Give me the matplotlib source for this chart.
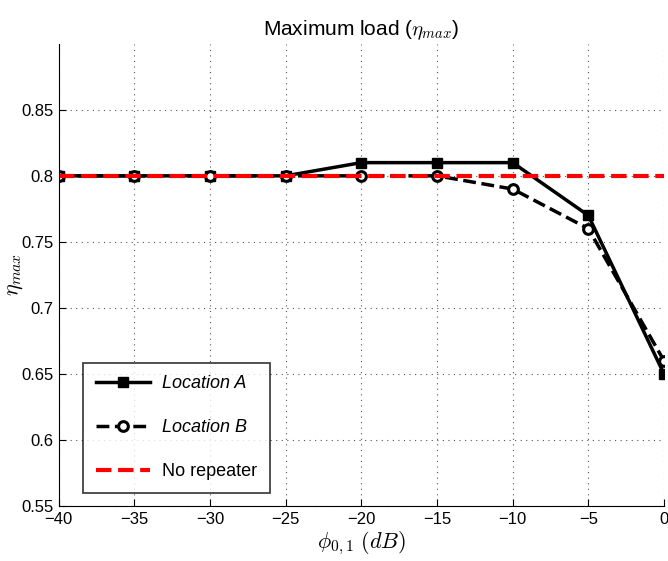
import matplotlib
matplotlib.use('Agg')
import matplotlib.pyplot as plt

plt.rcParams['font.family'] = ['Liberation Sans', 'DejaVu Sans']
plt.rcParams['mathtext.fontset'] = 'cm'

# data
phi = [-40, -35, -30, -25, -20, -15, -10, -5, 0]
loc_a = [0.80, 0.80, 0.80, 0.80, 0.81, 0.81, 0.81, 0.77, 0.65]
loc_b = [0.80, 0.80, 0.80, 0.80, 0.80, 0.80, 0.79, 0.76, 0.66]
no_rep = [0.80] * len(phi)

fig = plt.figure(figsize=(6.68, 5.61), dpi=100)
ax = fig.add_axes([0.088, 0.098, 0.906, 0.824])

ax.plot(phi, loc_a, '-', color='black', lw=2.5, marker='s', ms=7, label='Location A')
ax.plot(phi, loc_b, '--', color='black', lw=2.5, marker='o', ms=7,
        mfc='white', mew=2.2, label='Location B')
ax.plot(phi, no_rep, '--', color='red', lw=3, label='No repeater')

ax.set_xlim(-40, 0)
ax.set_ylim(0.55, 0.9)
ax.set_xticks(range(-40, 1, 5))
ax.set_yticks([0.55, 0.6, 0.65, 0.7, 0.75, 0.8, 0.85])
ax.set_yticklabels(['0.55', '0.6', '0.65', '0.7', '0.75', '0.8', '0.85'])
ax.tick_params(direction='in', labelsize=12, length=5)
ax.tick_params(axis='y', pad=4)
ax.tick_params(axis='x', pad=4)
ax.grid(True, linestyle=(0, (1, 4)), color='#555555', lw=0.8)
ax.spines['top'].set_visible(False)
ax.spines['right'].set_visible(False)

ax.set_title(r'Maximum load ($\eta_{max}$)', fontsize=15)
ax.set_ylabel(r'$\eta_{max}$', fontsize=16)
ax.yaxis.set_label_coords(-0.056, 0.5)
ax.set_xlabel(r'$\phi_{0,1}\ (dB)$', fontsize=16, labelpad=2)

leg = ax.legend(loc='lower left', bbox_to_anchor=(0.04, 0.028), fontsize=13,
                fancybox=False, edgecolor='black', handlelength=3.0,
                labelspacing=1.5, borderpad=0.7, handletextpad=0.7,
                borderaxespad=0)
leg.get_frame().set_linewidth(1.2)
for t in leg.get_texts()[:2]:
    t.set_fontstyle('italic')

fig.savefig('out.png', dpi=100)
